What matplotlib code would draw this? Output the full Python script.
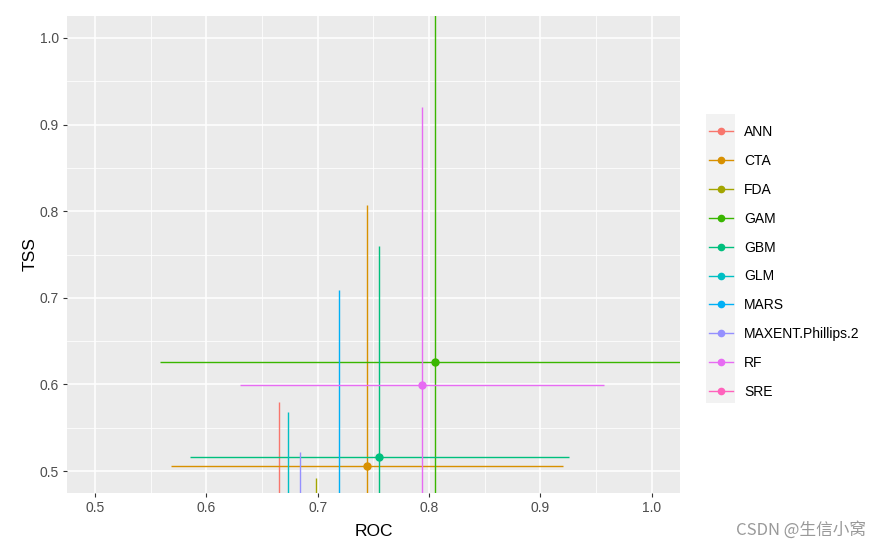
import matplotlib
matplotlib.use("Agg")
import matplotlib.pyplot as plt
import numpy as np
from matplotlib.lines import Line2D

plt.rcParams['font.family'] = ['Liberation Sans', 'DejaVu Sans']

models = ["ANN", "CTA", "FDA", "GAM", "GBM", "GLM", "MARS", "MAXENT.Phillips.2", "RF", "SRE"]
colors = ["#F8766D", "#D89000", "#A3A500", "#39B600", "#00BF7D", "#00BFC4",
          "#00B0F6", "#9590FF", "#E76BF3", "#FF62BC"]
roc_mean = [0.6656, 0.7447, 0.6989, 0.8058, 0.7555, 0.6737, 0.7195, 0.6845, 0.7940, 0.6200]
roc_sd   = [0.0300, 0.1761, 0.0300, 0.2474, 0.1700, 0.0300, 0.0400, 0.0300, 0.1635, 0.0300]
tss_mean = [0.3800, 0.5054, 0.3700, 0.6260, 0.5158, 0.3900, 0.4200, 0.3600, 0.5993, 0.2000]
tss_sd   = [0.2000, 0.3016, 0.1220, 0.4200, 0.2437, 0.1785, 0.2890, 0.1620, 0.3207, 0.1000]

xticks = [0.5, 0.6, 0.7, 0.8, 0.9, 1.0]
yticks = [0.5, 0.6, 0.7, 0.8, 0.9, 1.0]

fig = plt.figure(figsize=(8.8, 5.48), dpi=100)
ax = fig.add_axes([67/880, 1-493/548, (680-67)/880, (493-16)/548])
ax.set_facecolor("#EBEBEB")
for s in ax.spines.values():
    s.set_visible(False)

xlim = (0.4748, 1.0256)
ylim = (0.4746, 1.0254)
ax.set_xlim(*xlim)
ax.set_ylim(*ylim)

for v in np.arange(0.55, 1.05, 0.1):
    ax.axvline(v, color="white", lw=0.55, zorder=0)
    ax.axhline(v, color="white", lw=0.55, zorder=0)
for v in xticks:
    ax.axvline(v, color="white", lw=1.1, zorder=0)
for v in yticks:
    ax.axhline(v, color="white", lw=1.1, zorder=0)

for m, c, xm, xs, ym, ys in zip(models, colors, roc_mean, roc_sd, tss_mean, tss_sd):
    ax.plot([xm, xm], [ym - ys, ym + ys], color=c, lw=1.0, zorder=2, solid_capstyle="butt")
    ax.plot([xm - xs, xm + xs], [ym, ym], color=c, lw=1.0, zorder=2, solid_capstyle="butt")
    ax.plot([xm], [ym], marker="o", ms=5.0, color=c, mec=c, zorder=3, ls="none")

ax.set_xticks(xticks)
ax.set_xticklabels([f"{v:.1f}" for v in xticks])
ax.set_yticks(yticks)
ax.set_yticklabels([f"{v:.1f}" for v in yticks])
ax.tick_params(colors="#333333", length=3, width=0.8, labelsize=10, labelcolor="#4D4D4D", pad=3)
ax.set_xlabel("ROC", fontsize=12.5, color="black", labelpad=6)
ax.set_ylabel("TSS", fontsize=12.5, color="black", labelpad=1)

# legend
handles = [Line2D([0], [0], color=c, lw=1.0, marker="o", ms=4.5, mec=c) for c in colors]
leg = fig.legend(handles, models, loc="upper left", bbox_to_anchor=(698/880, 1-114/548),
                 frameon=False, fontsize=10, handlelength=1.75, handletextpad=0.75,
                 labelspacing=1.07, borderpad=0.3)
fig.patches.append(matplotlib.patches.Rectangle((706/880, 1-403/548), 29/880, 289/548,
                   transform=fig.transFigure, facecolor="#F2F2F2", edgecolor="none", zorder=-1))

fig.text(866/880, 1-530/548, "CSDN @生信小窝", ha="right", va="center", fontsize=12,
         color="#999999", family=["Noto Sans CJK SC", "DejaVu Sans"])

fig.savefig("out.png", dpi=100)
